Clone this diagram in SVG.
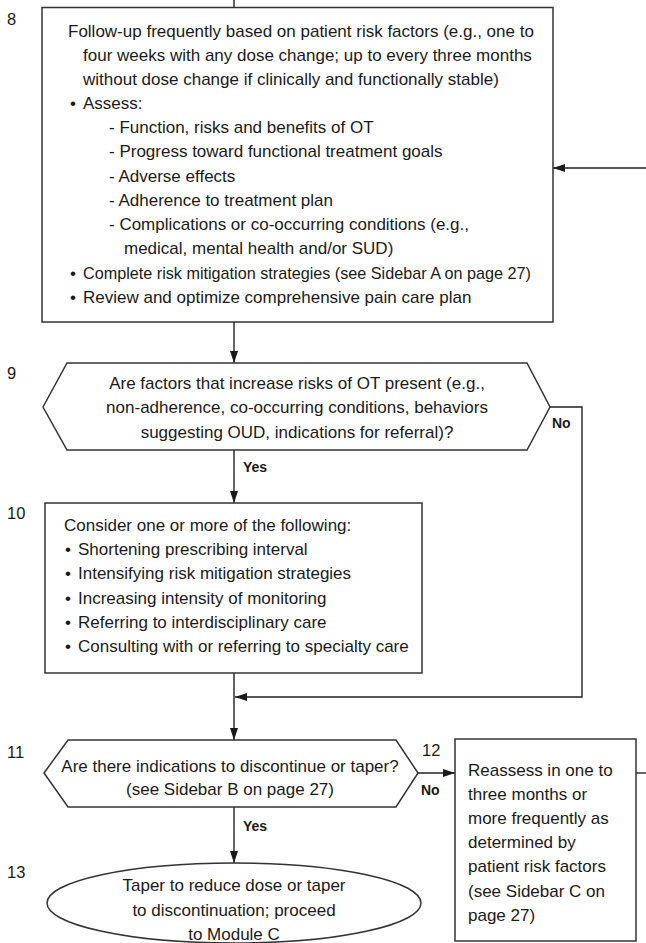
<svg xmlns="http://www.w3.org/2000/svg" width="646" height="943" viewBox="0 0 646 943">
  <defs>
    <marker id="arrow" markerUnits="userSpaceOnUse" markerWidth="12" markerHeight="8" refX="12" refY="4" orient="auto">
      <path d="M0,0 L12,4 L0,8 z" fill="#1a1a1a"/>
    </marker>
    <style>
      .shape { fill: #ffffff; stroke: #333333; stroke-width: 1.5; }
      .conn { fill: none; stroke: #222222; stroke-width: 1.4; }
      .txt { font-family: "Liberation Sans", Arial, sans-serif; font-size: 17px; fill: #1a1a1a; }
      .mid { text-anchor: middle; }
      .num { font-family: "Liberation Sans", Arial, sans-serif; font-size: 16.5px; fill: #1a1a1a; }
      .lbl { font-family: "Liberation Sans", Arial, sans-serif; font-size: 14px; font-weight: bold; fill: #1a1a1a; }
    </style>
  </defs>
  <rect width="646" height="943" fill="#ffffff"/>

  <!-- connectors -->
  <g id="connectors">
    <path class="conn" d="M234,0 V7"/>
    <path class="conn" d="M646,168 H553" marker-end="url(#arrow)"/>
    <path class="conn" d="M234,322 V363" marker-end="url(#arrow)"/>
    <path class="conn" d="M550,407 H582 V697 H235" marker-end="url(#arrow)"/>
    <path class="conn" d="M234,450 V503" marker-end="url(#arrow)"/>
    <path class="conn" d="M234,673 V740" marker-end="url(#arrow)"/>
    <path class="conn" d="M418,773 H455" marker-end="url(#arrow)"/>
    <path class="conn" d="M234,807 V863" marker-end="url(#arrow)"/>
    <path class="conn" d="M636,773 H646"/>
    <text class="lbl" x="552" y="428">No</text>
    <text class="lbl" x="243" y="472">Yes</text>
    <text class="lbl" x="421" y="795">No</text>
    <text class="lbl" x="243" y="831">Yes</text>
  </g>

  <!-- step 8: follow-up box -->
  <g id="node8">
    <text class="num" x="7" y="25">8</text>
    <rect class="shape" x="42" y="7.5" width="511" height="314.5"/>
    <text class="txt" x="68" y="37">Follow-up frequently based on patient risk factors (e.g., one to</text>
    <text class="txt" x="83" y="61">four weeks with any dose change; up to every three months</text>
    <text class="txt" x="83" y="85">without dose change if clinically and functionally stable)</text>
    <text class="txt" x="70" y="109">•</text>
    <text class="txt" x="83" y="109">Assess:</text>
    <text class="txt" x="109" y="133">- Function, risks and benefits of OT</text>
    <text class="txt" x="109" y="157">- Progress toward functional treatment goals</text>
    <text class="txt" x="109" y="182">- Adverse effects</text>
    <text class="txt" x="109" y="206">- Adherence to treatment plan</text>
    <text class="txt" x="109" y="230">- Complications or co-occurring conditions (e.g.,</text>
    <text class="txt" x="124" y="254">medical, mental health and/or SUD)</text>
    <text class="txt" x="70" y="279">•</text>
    <text class="txt" x="83" y="279" textLength="448" lengthAdjust="spacingAndGlyphs">Complete risk mitigation strategies (see Sidebar A on page 27)</text>
    <text class="txt" x="70" y="303">•</text>
    <text class="txt" x="83" y="303">Review and optimize comprehensive pain care plan</text>
  </g>

  <!-- step 9: risk factor decision -->
  <g id="node9">
    <text class="num" x="7" y="379">9</text>
    <polygon class="shape" points="43,407 67,363 527,363 550,407 527,450 67,450"/>
    <text class="txt mid" x="297" y="389">Are factors that increase risks of OT present (e.g.,</text>
    <text class="txt mid" x="297" y="413">non-adherence, co-occurring conditions, behaviors</text>
    <text class="txt mid" x="297" y="438">suggesting OUD, indications for referral)?</text>
  </g>

  <!-- step 10: options box -->
  <g id="node10">
    <text class="num" x="7" y="519">10</text>
    <rect class="shape" x="45" y="503" width="377" height="170"/>
    <text class="txt" x="64" y="531">Consider one or more of the following:</text>
    <text class="txt" x="65" y="555">•</text>
    <text class="txt" x="78" y="555">Shortening prescribing interval</text>
    <text class="txt" x="65" y="579">•</text>
    <text class="txt" x="78" y="579">Intensifying risk mitigation strategies</text>
    <text class="txt" x="65" y="604">•</text>
    <text class="txt" x="78" y="604">Increasing intensity of monitoring</text>
    <text class="txt" x="65" y="628">•</text>
    <text class="txt" x="78" y="628">Referring to interdisciplinary care</text>
    <text class="txt" x="65" y="652">•</text>
    <text class="txt" x="78" y="652">Consulting with or referring to specialty care</text>
  </g>

  <!-- step 11: discontinue/taper decision -->
  <g id="node11">
    <text class="num" x="7" y="758">11</text>
    <polygon class="shape" points="44,773 68,740 396,740 418,773 396,807 68,807"/>
    <text class="txt mid" x="230" y="772">Are there indications to discontinue or taper?</text>
    <text class="txt mid" x="230" y="795">(see Sidebar B on page 27)</text>
  </g>

  <!-- step 12: reassess box -->
  <g id="node12">
    <text class="num" x="422" y="756">12</text>
    <rect class="shape" x="455" y="739" width="181" height="202"/>
    <text class="txt" x="468" y="776">Reassess in one to</text>
    <text class="txt" x="468" y="800">three months or</text>
    <text class="txt" x="468" y="824">more frequently as</text>
    <text class="txt" x="468" y="848">determined by</text>
    <text class="txt" x="468" y="872">patient risk factors</text>
    <text class="txt" x="468" y="897">(see Sidebar C on</text>
    <text class="txt" x="468" y="921">page 27)</text>
  </g>

  <!-- step 13: taper terminal -->
  <g id="node13">
    <text class="num" x="7" y="878">13</text>
    <ellipse class="shape" cx="234" cy="903" rx="187" ry="40"/>
    <text class="txt mid" x="234" y="891">Taper to reduce dose or taper</text>
    <text class="txt mid" x="234" y="916">to discontinuation; proceed</text>
    <text class="txt mid" x="234" y="940">to Module C</text>
  </g>
</svg>
